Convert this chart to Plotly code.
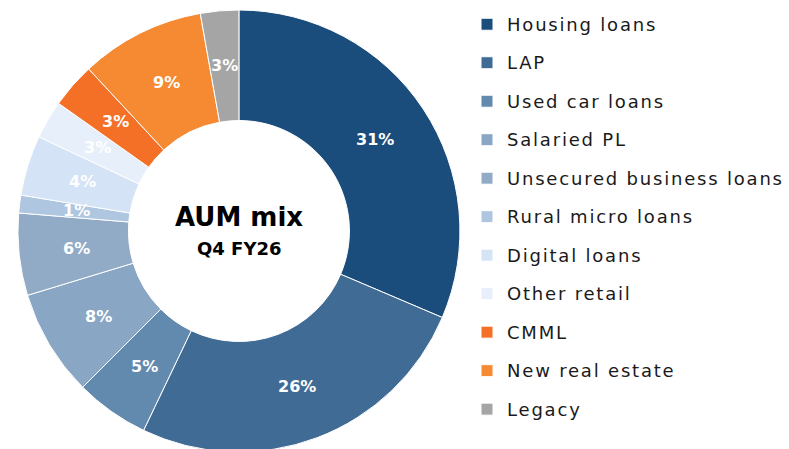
import math
import plotly.graph_objects as go

categories = ["Housing loans", "LAP", "Used car loans", "Salaried PL",
              "Unsecured business loans", "Rural micro loans", "Digital loans",
              "Other retail", "CMML", "New real estate", "Legacy"]
shares = [31.4, 25.7, 5.4, 7.8, 6.0, 1.3, 4.4, 2.8, 3.3, 9.1, 2.8]
colors = ["#1B4D7C", "#3F6B94", "#6289AE", "#89A6C5", "#91AAC6", "#AEC6E0",
          "#D4E3F5", "#E7EFFA", "#F37026", "#F58A33", "#A5A5A5"]
center_title = "AUM mix"
center_sub = "Q4 FY26"

FONT = "DejaVu Sans"
W, H = 789, 452          # bottom 3px fall outside the 449px window, like the reference
MT, MB = 10, 0
PLOT_H = H - MT - MB
HOLE = 0.5

# pie geometry (figure px)
CX = 242
DOM_W = 484
R = min(DOM_W, PLOT_H) / 2


def px_to_paper(x, y):
    return x / W, 1 - (y - MT) / PLOT_H


legend_labels = [
    f"<span style='font-size:18px;letter-spacing:1.8px;baseline-shift:4px'>{c}</span>"
    for c in categories]

fig = go.Figure(go.Pie(
    labels=legend_labels,
    values=shares,
    sort=False,
    direction="clockwise",
    rotation=0,
    hole=HOLE,
    marker=dict(colors=colors, line=dict(color="white", width=1)),
    textinfo="none",
    domain=dict(x=[0, DOM_W / W], y=[0, 1]),
    hoverinfo="label+percent",
))

# percentage labels at the middle of the ring, computed from the data
total = sum(shares)
cum = 0.0
cy = MT + PLOT_H / 2
rmid = R * (1 + HOLE) / 2
for v in shares:
    mid = (cum + v / 2) / total * 2 * math.pi
    cum += v
    x = CX + rmid * math.sin(mid)
    y = cy - rmid * math.cos(mid)
    px, py = px_to_paper(x, y)
    fig.add_annotation(
        x=px, y=py, xref="paper", yref="paper",
        text=f"<b>{round(v / total * 100):d}%</b>",
        showarrow=False, xanchor="center", yanchor="middle",
        font=dict(family=FONT, size=16, color="white"),
    )

tx, ty = px_to_paper(CX, 217)
fig.add_annotation(x=tx, y=ty, xref="paper", yref="paper",
                   text=f"<b>{center_title}</b>", showarrow=False,
                   xanchor="center", yanchor="middle",
                   font=dict(family=FONT, size=26, color="black"))
sx, sy = px_to_paper(CX, 248)
fig.add_annotation(x=sx, y=sy, xref="paper", yref="paper",
                   text=f"<b>{center_sub}</b>", showarrow=False,
                   xanchor="center", yanchor="middle",
                   font=dict(family=FONT, size=18, color="black"))

lx, _ = px_to_paper(473, 0)
fig.update_layout(
    width=W, height=H,
    margin=dict(l=0, r=0, t=MT, b=MB),
    paper_bgcolor="white", plot_bgcolor="white",
    showlegend=True,
    legend=dict(
        x=lx, y=1 + MT / PLOT_H, xanchor="left", yanchor="top",
        font=dict(family=FONT, size=27.3, color="#1a1a1a"),
        bgcolor="rgba(0,0,0,0)",
        maxheight=1000,
    ),
)

fig.write_html(
    "out.html",
    config={"displayModeBar": False},
    post_script="document.body.style.margin='0px';document.body.style.overflow='hidden';",
)
